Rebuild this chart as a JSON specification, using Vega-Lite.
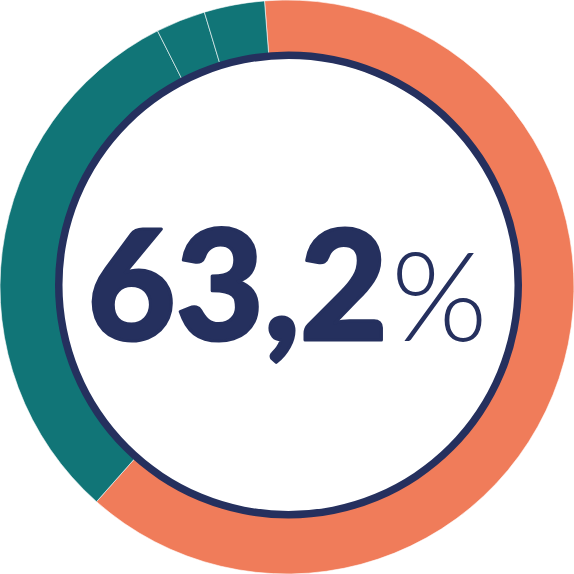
{
  "$schema": "https://vega.github.io/schema/vega-lite/v6.json",
  "width": 574,
  "height": 574,
  "autosize": {"type": "fit", "contains": "padding"},
  "padding": 0,
  "background": "white",
  "datasets": {
    "shares": [
      {"part": "A", "share": 62.8, "rank": 1},
      {"part": "B", "share": 31.0, "rank": 2},
      {"part": "C", "share": 2.8, "rank": 3},
      {"part": "D", "share": 3.4, "rank": 4}
    ],
    "labels": [
      {"kind": "value", "label": "63,2"},
      {"kind": "unit", "label": "%"}
    ]
  },
  "layer": [
    {
      "data": {"name": "shares"},
      "mark": {
        "type": "arc",
        "innerRadius": 229,
        "outerRadius": 287,
        "stroke": "white",
        "strokeWidth": 0.6
      },
      "encoding": {
        "theta": {
          "field": "share",
          "type": "quantitative",
          "stack": true,
          "scale": {"range": [-0.0785, 6.2047]}
        },
        "order": {"field": "rank", "type": "quantitative"},
        "color": {
          "field": "part",
          "type": "nominal",
          "scale": {
            "domain": ["A", "B", "C", "D"],
            "range": ["#F07C5A", "#117577", "#117577", "#117577"]
          },
          "legend": null
        }
      }
    },
    {
      "data": {"values": [{"ring": "inner"}]},
      "mark": {
        "type": "arc",
        "theta": 0,
        "theta2": 6.2832,
        "innerRadius": 226,
        "outerRadius": 233.5,
        "color": "#25305E",
        "xOffset": 1.5,
        "yOffset": -2
      },
      "encoding": {}
    },
    {
      "data": {"name": "labels"},
      "transform": [{"filter": "datum.kind == 'value'"}],
      "mark": {
        "type": "text",
        "font": "Lato",
        "fontWeight": 900,
        "fontSize": 152,
        "letterSpacing": 3,
        "align": "right",
        "baseline": "alphabetic",
        "dx": 101,
        "dy": 53,
        "color": "#25305E",
        "stroke": "#25305E",
        "strokeWidth": 3,
        "strokeJoin": "round"
      },
      "encoding": {"text": {"field": "label"}}
    },
    {
      "data": {"name": "labels"},
      "transform": [{"filter": "datum.kind == 'unit'"}],
      "mark": {
        "type": "text",
        "font": "Lato",
        "fontWeight": 300,
        "fontSize": 124,
        "align": "left",
        "baseline": "alphabetic",
        "dx": 104,
        "dy": 54,
        "color": "#25305E"
      },
      "encoding": {"text": {"field": "label"}}
    }
  ],
  "config": {"view": {"stroke": null}}
}
